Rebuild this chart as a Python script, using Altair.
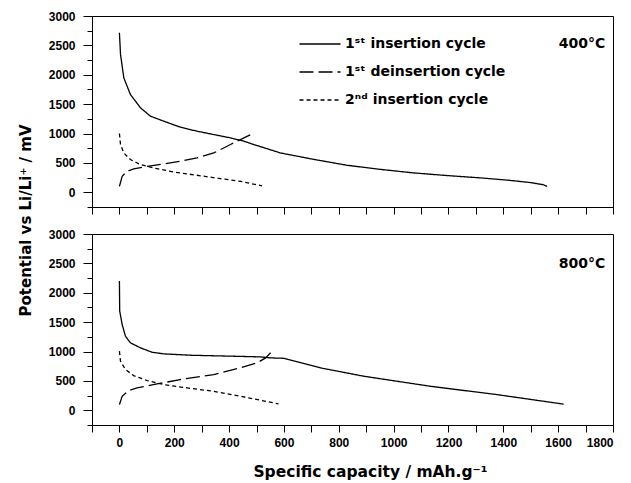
import altair as alt
import pandas as pd

FONT = "Liberation Sans"
FONT_WIDE = "DejaVu Sans"

series_names = ["1ˢᵗ insertion cycle", "1ˢᵗ deinsertion cycle", "2ⁿᵈ insertion cycle"]
dash_styles = [[1, 0], [14, 5], [4, 3]]

# ---- 400 °C panel ----
cap400_ins1 = [0, 4, 16, 40, 77, 113, 162, 222, 283, 344, 405, 454, 490, 587, 709, 830, 952, 1073, 1195, 1317, 1420, 1500, 1545, 1560]
pot400_ins1 = [2715, 2347, 1948, 1665, 1437, 1295, 1210, 1108, 1040, 983, 926, 870, 813, 670, 560, 460, 390, 330, 285, 245, 205, 165, 130, 100]
cap400_deins1 = [0, 10, 28, 52, 101, 162, 222, 283, 344, 405, 454, 484]
pot400_deins1 = [100, 273, 358, 397, 443, 483, 528, 585, 670, 813, 926, 994]
cap400_ins2 = [0, 4, 16, 40, 77, 125, 198, 283, 368, 441, 520]
pot400_ins2 = [1000, 813, 670, 557, 472, 414, 346, 290, 233, 187, 110]

# ---- 800 °C panel ----
cap800_ins1 = [0, 1, 10, 22, 40, 77, 119, 162, 259, 417, 514, 551, 599, 733, 891, 1134, 1377, 1620]
pot800_ins1 = [2200, 1690, 1460, 1261, 1148, 1062, 988, 960, 937, 920, 909, 892, 885, 722, 580, 409, 267, 105]
cap800_deins1 = [0, 10, 34, 64, 137, 222, 344, 441, 502, 533, 557]
pot800_deins1 = [97, 239, 335, 381, 449, 523, 608, 722, 807, 892, 1006]
cap800_ins2 = [0, 4, 22, 52, 101, 162, 247, 344, 441, 580]
pot800_ins2 = [1006, 835, 693, 591, 506, 438, 381, 324, 239, 110]

x_ticks = list(range(-100, 1801, 100))
y_ticks = list(range(-250, 3001, 250))


def make_df(groups):
    rows = []
    for name, caps, pots in groups:
        for i, (c, p) in enumerate(zip(caps, pots)):
            rows.append({"series": name, "cap": c, "pot": p, "i": i})
    return pd.DataFrame(rows)


df400 = make_df([(series_names[0], cap400_ins1, pot400_ins1),
                 (series_names[1], cap400_deins1, pot400_deins1),
                 (series_names[2], cap400_ins2, pot400_ins2)])
df800 = make_df([(series_names[0], cap800_ins1, pot800_ins1),
                 (series_names[1], cap800_deins1, pot800_deins1),
                 (series_names[2], cap800_ins2, pot800_ins2)])


def panel(df, temp_label, top):
    if top:
        x_axis = alt.Axis(values=x_ticks, labels=False, title=None, tickSize=7,
                          domainColor="black", tickColor="black")
        y_title = "Potential vs Li/Li⁺ / mV"
        legend = alt.Legend(orient="none", legendX=221, legendY=21, title=None,
                            symbolType="M-4,0H4", symbolSize=105, symbolStrokeWidth=1.3,
                            symbolStrokeColor="black", labelFont=FONT_WIDE, labelFontSize=14,
                            labelFontWeight="bold", labelColor="black", labelOffset=18,
                            rowPadding=14, padding=0, labelLimit=400)
    else:
        x_axis = alt.Axis(values=x_ticks, format="d",
                          labelExpr="datum.value % 200 === 0 ? datum.label : ''",
                          title="Specific capacity / mAh.g⁻¹", tickSize=7, labelPadding=5,
                          titleFont=FONT_WIDE, titleFontSize=15.5, titleFontWeight="bold",
                          titleX=278, titleY=46, titleBaseline="middle", titleAlign="center")
        y_title = None
        legend = None

    y_kwargs = dict(values=y_ticks, format="d",
                    labelExpr="datum.value % 500 === 0 ? datum.label : ''",
                    tickSize={"condition": {"test": "datum.value % 500 === 0", "value": 9}, "value": 5},
                    labelPadding=8)
    if y_title:
        y_axis = alt.Axis(title=y_title, titleFont=FONT_WIDE, titleFontSize=15, titleFontWeight="bold",
                          titleX=-67, titleY=204, titleBaseline="middle", titleAngle=270,
                          titleAlign="center", **y_kwargs)
    else:
        y_axis = alt.Axis(title=None, **y_kwargs)

    lines = alt.Chart(df).mark_line(color="black", strokeWidth=1.3, clip=True).encode(
        x=alt.X("cap:Q", scale=alt.Scale(domain=[-100, 1800], nice=False, zero=False), axis=x_axis),
        y=alt.Y("pot:Q", scale=alt.Scale(domain=[-250, 3000], nice=False, zero=False), axis=y_axis),
        strokeDash=alt.StrokeDash("series:N", sort=series_names,
                                  scale=alt.Scale(domain=series_names, range=dash_styles),
                                  legend=legend),
        detail="series:N",
        order="i:Q",
    )

    label = alt.Chart(pd.DataFrame({"t": [temp_label]})).mark_text(
        font=FONT_WIDE, fontSize=14, fontWeight="bold", color="black", align="center", baseline="middle"
    ).encode(text="t:N", x=alt.value(490), y=alt.value(28 if top else 30))

    return alt.layer(lines, label).properties(width=521, height=191)


top_panel = panel(df400, "400°C", True)
bottom_panel = panel(df800, "800°C", False)

chart = alt.vconcat(top_panel, bottom_panel, spacing=27, bounds="flush").resolve_scale(
    strokeDash="independent"
).properties(
    padding={"left": 17, "top": 9, "right": 5, "bottom": 0},
    background="white",
).configure_view(
    stroke="black", strokeWidth=1
).configure_axis(
    domainColor="black", tickColor="black", labelColor="black", titleColor="black",
    labelFont=FONT, labelFontSize=12, labelFontWeight="bold", titleFont=FONT, grid=False,
    domainWidth=1, tickWidth=1
)

chart.save("out.html", embed_options={"renderer": "svg", "actions": False})
